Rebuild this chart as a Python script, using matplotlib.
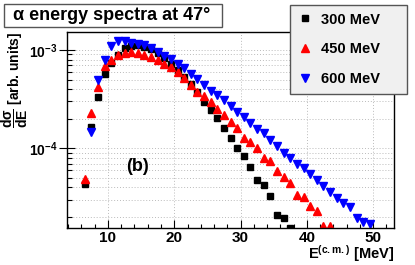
import numpy as np
import matplotlib
matplotlib.use("Agg")
import matplotlib.pyplot as plt
from matplotlib.patches import Rectangle
from matplotlib.ticker import FixedLocator, LogLocator, NullFormatter, FixedFormatter

plt.rcParams['font.family'] = ['Liberation Sans', 'DejaVu Sans']
plt.rcParams['font.weight'] = 'bold'
plt.rcParams['mathtext.fontset'] = 'custom'
plt.rcParams['mathtext.rm'] = 'Liberation Sans:bold'
plt.rcParams['mathtext.bf'] = 'Liberation Sans:bold'
plt.rcParams['mathtext.it'] = 'Liberation Sans:bold'

# ---- data ----
e300 = [6.5, 7.5, 8.5, 9.5, 10.5, 11.5, 12.5, 13.5, 14.5, 15.5, 16.5, 17.5, 18.5, 19.5, 20.5,
        21.5, 22.5, 23.5, 24.5, 25.5, 26.5, 27.5, 28.5, 29.5, 30.5, 31.5, 32.5, 33.5, 34.5,
        35.5, 36.5, 37.5]
y300 = [4.3e-5, 1.66e-4, 3.35e-4, 5.7e-4, 7.3e-4, 8.9e-4, 1.04e-3, 1.1e-3, 1.12e-3, 1.08e-3,
        1.02e-3, 9.25e-4, 8.2e-4, 7.2e-4, 6.3e-4, 5.3e-4, 4.5e-4, 3.7e-4, 2.98e-4, 2.45e-4,
        2.02e-4, 1.61e-4, 1.26e-4, 1.0e-4, 8.4e-5, 6.4e-5, 4.8e-5, 4.2e-5, 3.27e-5, 2.09e-5,
        1.95e-5, 1.55e-5]

e450 = [6.5, 7.5, 8.5, 9.5, 10.5, 11.5, 12.5, 13.5, 14.5, 15.5, 16.5, 17.5, 18.5, 19.5, 20.5,
        21.5, 22.5, 23.5, 24.5, 25.5, 26.5, 27.5, 28.5, 29.5, 30.5, 31.5, 32.5, 33.5, 34.5,
        35.5, 36.5, 37.5, 38.5, 39.5, 40.5, 41.5, 42.5, 43.5]
y450 = [4.85e-5, 2.28e-4, 4.23e-4, 6.8e-4, 8.0e-4, 8.9e-4, 9.4e-4, 9.6e-4, 9.4e-4, 8.9e-4,
        8.55e-4, 7.9e-4, 7.2e-4, 6.7e-4, 6.0e-4, 5.15e-4, 4.4e-4, 3.77e-4, 3.4e-4, 2.98e-4,
        2.5e-4, 2.18e-4, 1.87e-4, 1.6e-4, 1.26e-4, 1.17e-4, 1.0e-4, 7.9e-5, 7.5e-5, 5.9e-5,
        5.07e-5, 4.47e-5, 3.35e-5, 3.17e-5, 2.59e-5, 2.32e-5, 1.62e-5, 1.62e-5]

e600 = [7.5, 8.5, 9.5, 10.5, 11.5, 12.5, 13.5, 14.5, 15.5, 16.5, 17.5, 18.5, 19.5, 20.5,
        21.5, 22.5, 23.5, 24.5, 25.5, 26.5, 27.5, 28.5, 29.5, 30.5, 31.5, 32.5, 33.5, 34.5,
        35.5, 36.5, 37.5, 38.5, 39.5, 40.5, 41.5, 42.5, 43.5, 44.5, 45.5, 46.5, 47.5, 48.5, 49.5]
y600 = [1.48e-4, 4.95e-4, 7.9e-4, 1.1e-3, 1.24e-3, 1.24e-3, 1.19e-3, 1.15e-3, 1.12e-3, 1.06e-3,
        9.6e-4, 8.7e-4, 8.05e-4, 7.2e-4, 6.5e-4, 5.7e-4, 5.03e-4, 4.4e-4, 3.85e-4, 3.48e-4,
        3.1e-4, 2.71e-4, 2.35e-4, 2.06e-4, 1.79e-4, 1.57e-4, 1.44e-4, 1.21e-4, 1.05e-4, 9.0e-5,
        8.0e-5, 6.9e-5, 6.26e-5, 5.5e-5, 4.77e-5, 4.13e-5, 3.62e-5, 3.1e-5, 2.8e-5, 2.51e-5,
        1.94e-5, 1.79e-5, 1.69e-5]

labels = ['300 MeV', '450 MeV', '600 MeV']
xticks = [10, 20, 30, 40, 50]

W, H = 415, 265
fig = plt.figure(figsize=(W / 100, H / 100), dpi=100)
ax = fig.add_axes([66.7 / W, 1 - 228.3 / H, (394.3 - 66.7) / W, (228.3 - 31.7) / H])
ax.set_yscale('log')

h1, = ax.plot(e300, y300, 's', color='black', ms=5.0, ls='none')
h2, = ax.plot(e450, y450, '^', color='red', ms=5.6, ls='none', mec='red')
h3, = ax.plot(e600, y600, 'v', color='blue', ms=5.6, ls='none', mec='blue')

ax.set_xlim(3.77, 53.2)
ax.set_ylim(1.535e-5, 1.535e-3)

ax.xaxis.set_major_locator(FixedLocator(xticks))
ax.xaxis.set_minor_locator(FixedLocator(np.arange(4, 54, 2)))
ax.set_xticklabels([str(t) for t in xticks])
ax.yaxis.set_major_locator(FixedLocator([1e-4, 1e-3]))
ax.yaxis.set_major_formatter(FixedFormatter([r'$\mathbf{10^{-4}}$', r'$\mathbf{10^{-3}}$']))
ax.yaxis.set_minor_locator(LogLocator(base=10, subs=np.arange(2, 10), numticks=20))
ax.yaxis.set_minor_formatter(NullFormatter())

ax.tick_params(axis='x', which='major', direction='in', length=5.8, width=0.8, labelsize=11, pad=2)
ax.tick_params(axis='x', which='minor', direction='in', length=2.9, width=0.8)
ax.tick_params(axis='y', which='major', direction='inout', length=11, width=0.8, labelsize=10, pad=1)
ax.tick_params(axis='y', which='minor', direction='in', length=3.6, width=0.8)
for lab in ax.get_xticklabels():
    lab.set_fontweight('bold')

ax.grid(True, axis='x', which='major', ls=(0, (1, 2)), color='#bbbbbb', lw=0.7)
ax.grid(True, axis='y', which='both', ls=(0, (1, 2)), color='#bbbbbb', lw=0.7)
ax.set_axisbelow(True)
for s in ax.spines.values():
    s.set_linewidth(1.0)

ax.set_xlabel(r'E$^{\mathbf{(c.m.)}}$ [MeV]', fontsize=10.5, fontweight='bold', ha='right', va='bottom')
ax.xaxis.set_label_coords(1.0, -(264.5 - 228.3) / 196.6)
ax.set_ylabel(r'$\mathbf{\dfrac{d\sigma}{dE}}$ [arb. units]', fontsize=10, fontweight='bold',
              ha='right', va='center')
ax.yaxis.set_label_coords(-(66.7 - 14.5) / 327.6, 1.0)

ax.text(0.2146, 0.312, '(b)', transform=ax.transAxes, fontsize=13, fontweight='bold',
        ha='center', va='center')

# title box
fig.add_artist(Rectangle((4.3 / W, 1 - 27 / H), (222 - 4.3) / W, (27 - 4) / H,
                         transform=fig.transFigure, fc='white', ec='#555555', lw=1.0))
fig.text(13 / W, 1 - 15.5 / H, 'α energy spectra at 47°', fontsize=13, fontweight='bold',
         ha='left', va='center')

# legend box
leg = fig.legend([h1, h2, h3], labels, loc='upper left',
                 bbox_to_anchor=(290 / W, 1 - 92 / H, (407 - 290) / W, (92 - 5) / H),
                 mode='expand', fontsize=10.5, frameon=True, fancybox=False, framealpha=1,
                 facecolor='#f0f0f0', edgecolor='#555555', labelspacing=1.09,
                 handlelength=1.0, handletextpad=0.6, borderpad=0.52, borderaxespad=0)
leg.get_frame().set_linewidth(1.0)
for t in leg.get_texts():
    t.set_fontweight('bold')

fig.savefig('out.png', dpi=100)
